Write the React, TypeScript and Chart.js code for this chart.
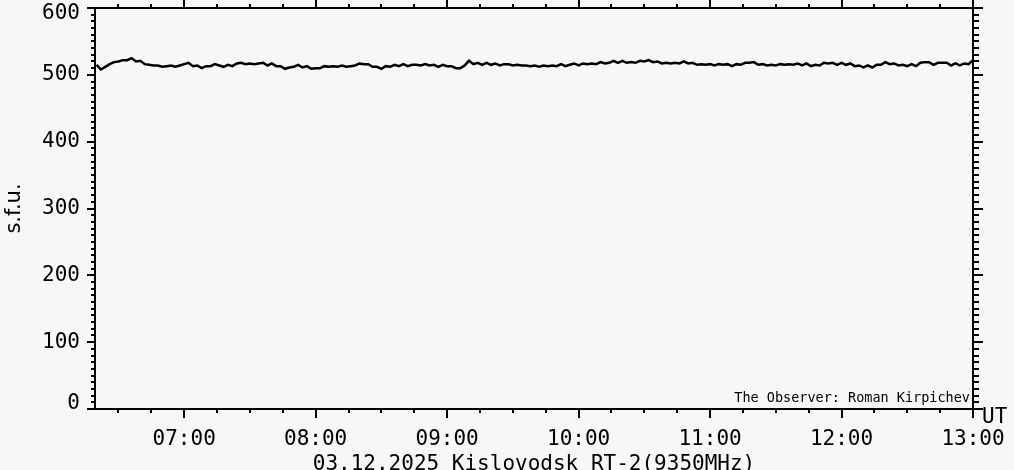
import React, { useEffect, useRef } from 'react';
import { Chart, registerables } from 'chart.js';

Chart.register(...registerables);

// Sampling grid of the flux record (minutes since 00:00 UT)
const START_MIN = 380;
const STEP_MIN = 2;

// Solar radio flux, s.f.u., one value every 2 minutes from 06:20 to 13:00 UT
const fluxValues = [
  515, 508, 512, 516, 519, 520, 522, 522, 525, 520,
  521, 516, 515, 514, 514, 512, 513, 514, 512, 514,
  516, 518, 513, 514, 510, 513, 513, 516, 514, 512,
  515, 513, 517, 518, 516, 517, 516, 517, 518, 514,
  517, 513, 513, 509, 511, 512, 515, 511, 513, 509,
  510, 510, 513, 512, 513, 512, 514, 512, 513, 514,
  517, 516, 516, 512, 512, 509, 513, 512, 515, 513,
  516, 513, 515, 515, 514, 516, 514, 515, 512, 515,
  513, 513, 510, 510, 514, 521, 516, 518, 515, 518,
  515, 517, 514, 516, 516, 514, 515, 514, 514, 513,
  514, 512, 514, 513, 514, 513, 516, 513, 515, 517,
  514, 517, 516, 517, 516, 519, 517, 518, 521, 518,
  521, 518, 519, 518, 521, 520, 522, 519, 520, 517,
  518, 517, 518, 517, 520, 517, 518, 515, 516, 515,
  516, 514, 516, 515, 516, 513, 516, 515, 518, 518,
  519, 515, 516, 514, 515, 514, 516, 515, 516, 515,
  517, 514, 517, 513, 515, 514, 518, 517, 518, 515,
  518, 515, 517, 513, 514, 511, 514, 511, 515, 515,
  519, 516, 517, 514, 515, 513, 516, 513, 518, 519,
  519, 515, 518, 518, 518, 514, 517, 514, 517, 516,
  522,
];

const xTickValues = [420, 480, 540, 600, 660, 720, 780];
const xTickLabels = ['07:00', '08:00', '09:00', '10:00', '11:00', '12:00', '13:00'];
const X_MIN = 379.3;
const X_MAX = 780;
const X_MINOR_STEP = 15;
const X_MAJOR_STEP = 60;

const Y_MIN = 0;
const Y_MAX = 600;
const Y_MAJOR_STEP = 100;
const Y_MINOR_STEP = 10;

const X_TITLE = '03.12.2025 Kislovodsk RT-2(9350MHz)';
const Y_TITLE = 's.f.u.';
const OBSERVER = 'The Observer: Roman Kirpichev';
const UNIT = 'UT';

const BG = '#f7f7f7';
const FONT = '"DejaVu Sans Mono", monospace';
const SANS = '"DejaVu Sans", sans-serif';

const framePlugin = {
  id: 'frame',
  beforeDraw(chart: any) {
    const { ctx, width, height } = chart;
    ctx.save();
    ctx.fillStyle = BG;
    ctx.fillRect(0, 0, width, height);
    ctx.restore();
  },
  afterDraw(chart: any) {
    const { ctx, chartArea, scales } = chart;
    const { left, right, top, bottom } = chartArea;
    const x = scales.x;
    const y = scales.y;
    ctx.save();
    ctx.strokeStyle = '#000';
    ctx.lineWidth = 2;
    ctx.strokeRect(left, top, right - left, bottom - top);
    ctx.beginPath();
    for (let v = Y_MIN; v <= Y_MAX; v += Y_MINOR_STEP) {
      const py = Math.round(y.getPixelForValue(v));
      const major = v % Y_MAJOR_STEP === 0;
      ctx.moveTo(left - (major ? 8 : 4), py);
      ctx.lineTo(left, py);
      ctx.moveTo(right, py);
      ctx.lineTo(right + (major ? 10 : 6), py);
    }
    const first = Math.ceil(X_MIN / X_MINOR_STEP) * X_MINOR_STEP;
    for (let m = first; m <= X_MAX; m += X_MINOR_STEP) {
      const px = Math.round(x.getPixelForValue(m));
      const major = m % X_MAJOR_STEP === 0;
      ctx.moveTo(px, bottom);
      ctx.lineTo(px, bottom + (major ? 9 : 4));
      ctx.moveTo(px, top);
      ctx.lineTo(px, top - (major ? 8 : 4));
    }
    ctx.stroke();

    ctx.fillStyle = '#000';
    ctx.font = `13.5px ${FONT}`;
    ctx.textAlign = 'right';
    ctx.textBaseline = 'alphabetic';
    ctx.fillText(OBSERVER, right - 3, bottom - 7);

    ctx.font = `21px ${FONT}`;
    ctx.textAlign = 'left';
    ctx.fillText(UNIT, right + 9, bottom + 14);
    ctx.restore();
  },
};

export default function App() {
  const canvasRef = useRef<HTMLCanvasElement | null>(null);

  useEffect(() => {
    document.body.style.margin = '0';
    document.body.style.background = BG;
    const canvas = canvasRef.current;
    if (!canvas) return;
    const points = fluxValues.map((v, i) => ({ x: START_MIN + i * STEP_MIN, y: v }));
    const chart = new Chart(canvas, {
      type: 'line',
      data: {
        datasets: [
          {
            data: points,
            borderColor: '#000',
            borderWidth: 2.5,
            pointRadius: 0,
            tension: 0,
            fill: false,
          },
        ],
      },
      options: {
        responsive: false,
        animation: false,
        devicePixelRatio: 1,
        layout: { padding: { top: 8, right: 41, left: 0, bottom: 0 } },
        plugins: {
          legend: { display: false },
          tooltip: { enabled: false },
        },
        scales: {
          x: {
            type: 'linear',
            min: X_MIN,
            max: X_MAX,
            grid: { display: false, drawTicks: false },
            border: { display: false },
            afterBuildTicks: (scale: any) => {
              scale.ticks = xTickValues.map((v) => ({ value: v }));
            },
            ticks: {
              autoSkip: false,
              maxRotation: 0,
              padding: 18,
              color: '#000',
              font: { family: FONT, size: 21 },
              callback: (_v: any, i: number) => xTickLabels[i],
            },
            title: {
              display: true,
              text: X_TITLE,
              color: '#000',
              font: { family: FONT, size: 21 },
              padding: { top: 0, bottom: -7 },
            },
            afterFit: (scale: any) => {
              scale.height = 61;
              scale.paddingLeft = 0;
              scale.paddingRight = 0;
            },
          },
          y: {
            min: Y_MIN,
            max: Y_MAX,
            grid: { display: false, drawTicks: false },
            border: { display: false },
            ticks: {
              stepSize: Y_MAJOR_STEP,
              padding: 15,
              color: '#000',
              // keep the end labels inside the frame, as in the original plot
              callback: (v: any) =>
                v === Y_MAX ? ['', String(v)] : v === Y_MIN ? [String(v), ''] : String(v),
              font: (ctx: any) => {
                const v = ctx.tick ? ctx.tick.value : undefined;
                if (v === Y_MAX || v === Y_MIN) return { family: FONT, size: 21, lineHeight: '11px' };
                return { family: FONT, size: 21 };
              },
            },
            title: {
              display: true,
              text: Y_TITLE,
              color: '#000',
              font: { family: SANS, size: 21 },
              padding: { top: 2, bottom: 0 },
            },
            afterFit: (scale: any) => {
              scale.width = 95;
              scale.paddingTop = 0;
              scale.paddingBottom = 0;
            },
          },
        },
      },
      plugins: [framePlugin],
    } as any);
    return () => chart.destroy();
  }, []);

  return (
    <div style={{ position: 'fixed', left: 0, top: 0, width: 1014, height: 470, background: BG }}>
      <canvas ref={canvasRef} width={1014} height={470} style={{ display: 'block' }} />
    </div>
  );
}
